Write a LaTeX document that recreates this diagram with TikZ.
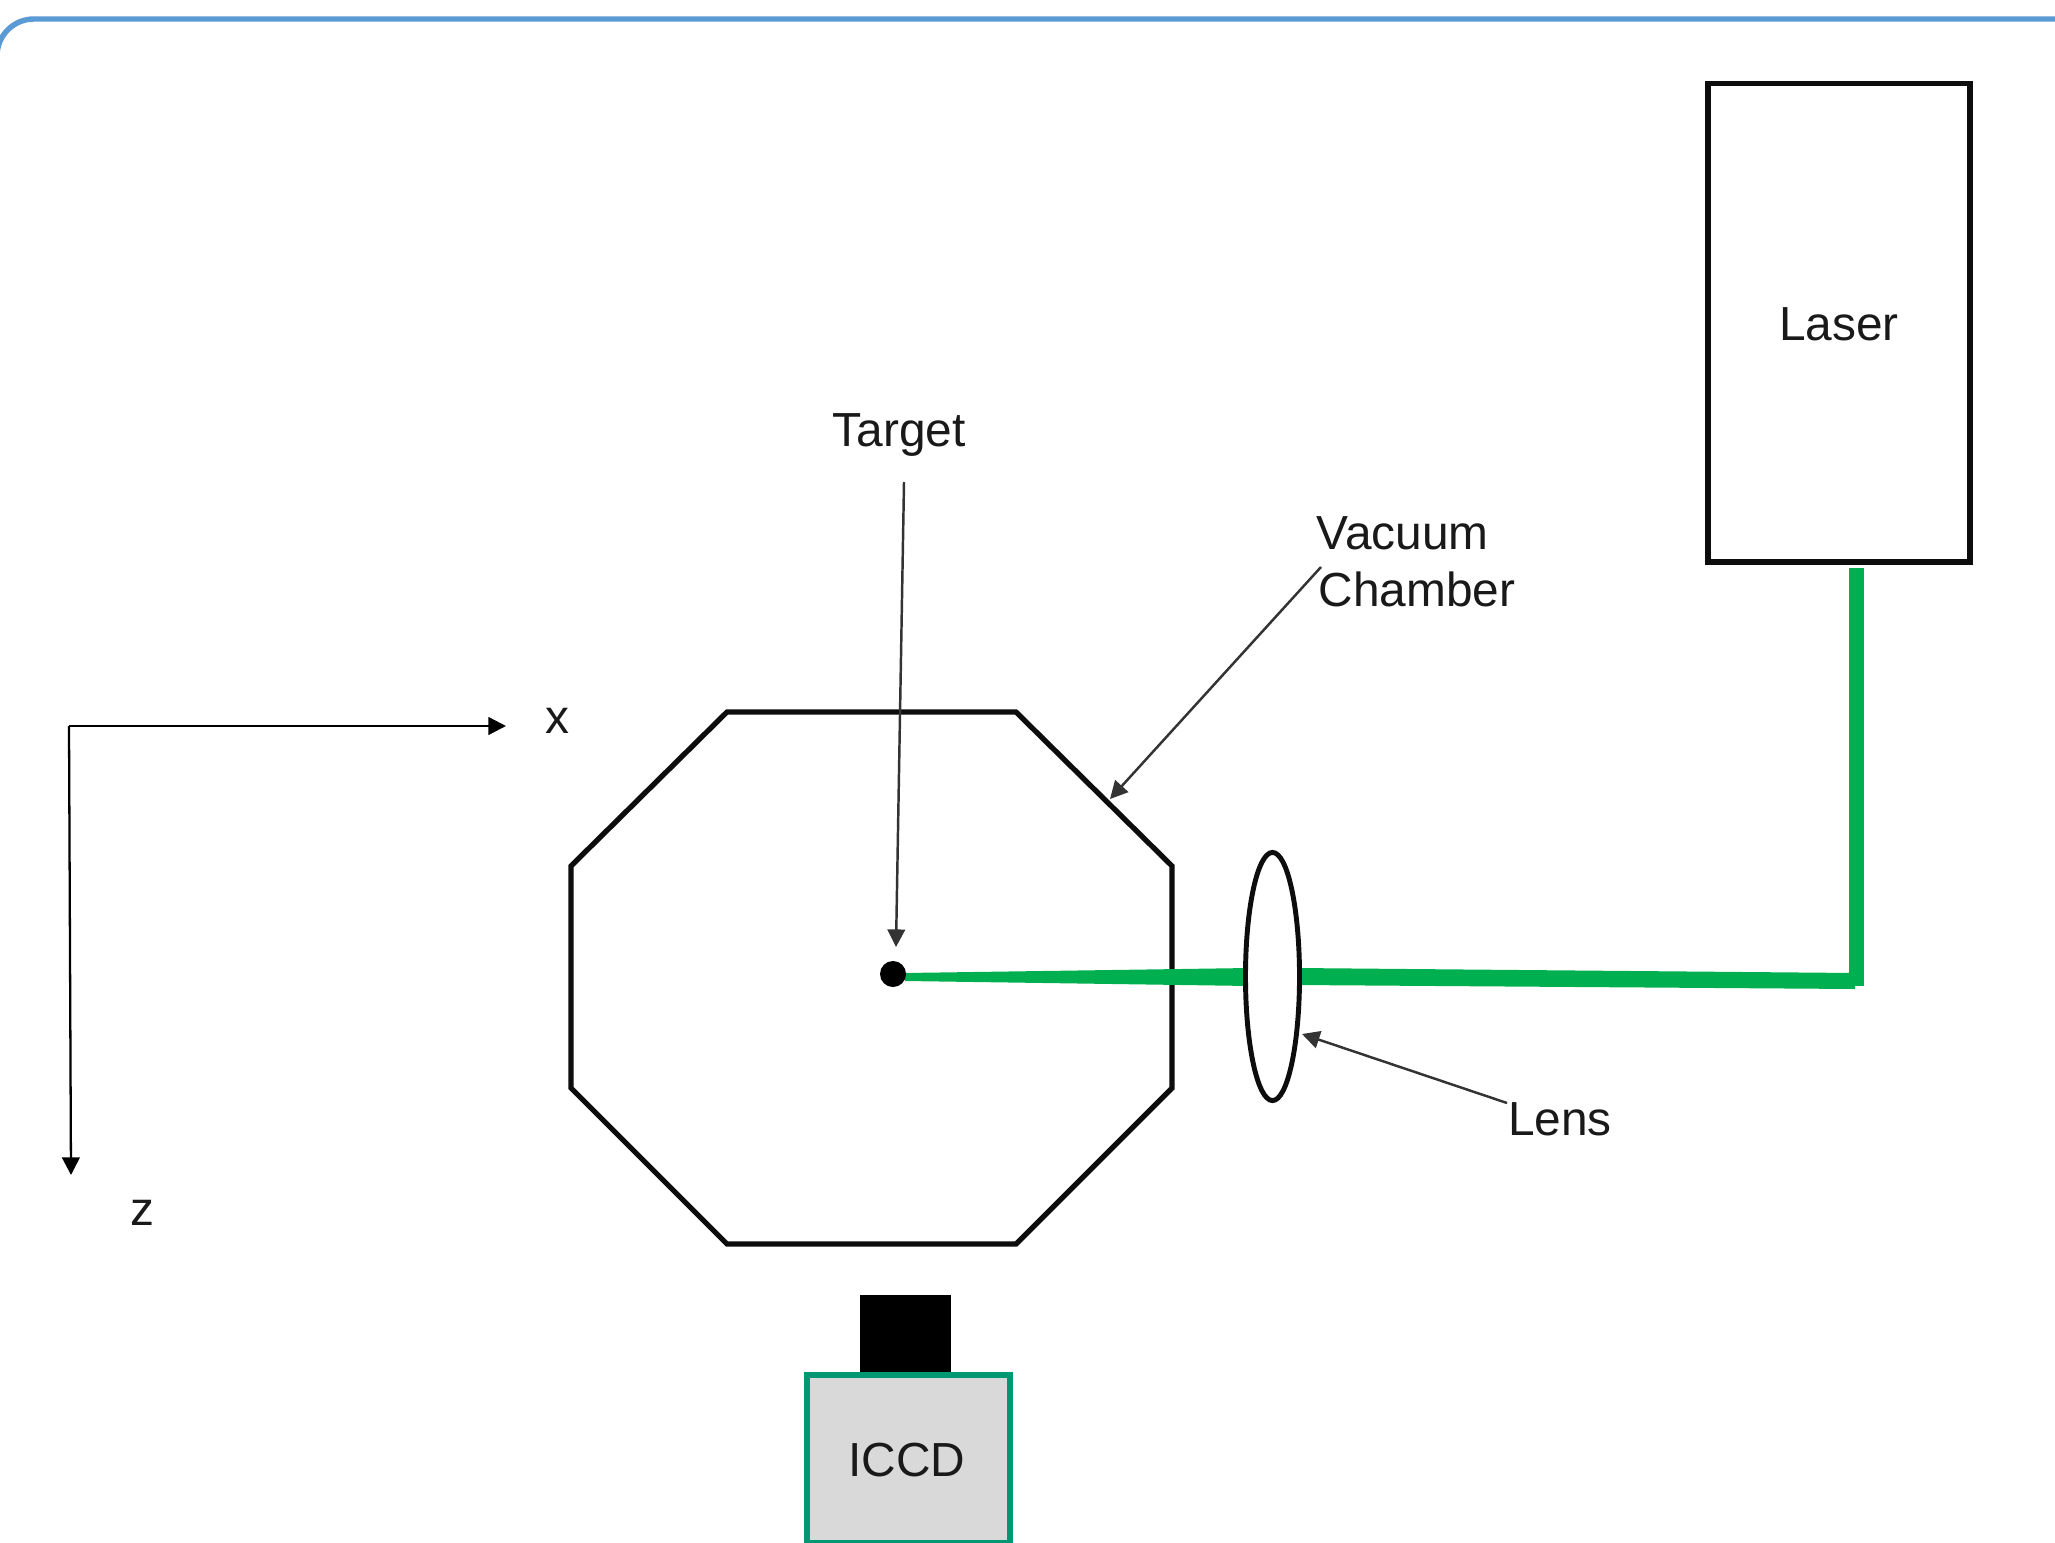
\documentclass[tikz,border=0pt]{standalone}
\usepackage{fontspec}
\setmainfont{Liberation Sans}
\usetikzlibrary{arrows.meta,shapes.geometric}
\definecolor{framecol}{HTML}{5B9BD5}
\definecolor{beamcol}{HTML}{00B050}
\definecolor{tealcol}{HTML}{009872}
\definecolor{greycol}{HTML}{D9D9D9}
\definecolor{leadcol}{HTML}{333333}
\tikzset{
  lbl/.style={font=\fontsize{13.6pt}{16pt}\selectfont, text=black!90, inner sep=0pt},
  outline/.style={draw=black!95, line width=1.5pt},
  lead/.style={draw=leadcol, line width=0.7pt, -{Triangle[length=5pt,width=5pt]}},
  axis/.style={draw=black, line width=0.65pt, -{Triangle[length=5pt,width=5pt]}},
  beam/.style={fill=beamcol},
}
\begin{document}
\begin{tikzpicture}[x=0.01cm,y=-0.01cm]
\useasboundingbox (0,0) rectangle (2055,1543);
\begin{scope}
\clip (0,0) rectangle (2055,1543);
\fill[white] (0,0) rectangle (2055,1543);
% frame
\draw[framecol, line width=1.55pt] (-3,56) .. controls (-3,35.5) and (13.5,19) .. (34,19) -- (2060,19);
% chamber
\draw[outline, line join=miter] (727,712) -- (1016,712) -- (1172,866) -- (1172,1088) -- (1016,1244) -- (727,1244) -- (571,1088) -- (571,866) -- cycle;
% beam
\fill[beam] (905,973) -- (1250,968) -- (1250,986) -- (905,981) -- cycle;
\fill[beam] (1296,968) -- (1855,973) -- (1855,989) -- (1296,985) -- cycle;
\fill[beam] (1849,568) rectangle (1864,986);
% lens
\node[ellipse, draw=black!95, line width=1.4pt, fill=white, minimum width=0.54cm, minimum height=2.48cm, inner sep=0pt] (lens) at (1272.5,976.5) {};
% target
\node[circle, fill=black, minimum size=0.26cm, inner sep=0pt] (dot) at (893,974) {};
% laser
\node[rectangle, outline, fill=white, minimum width=2.62cm, minimum height=4.78cm, inner sep=0pt] (laser) at (1839,323) {};
\node[lbl] (lasertext) at (1839,324) {Laser};
% camera
\node[rectangle, fill=black, minimum width=0.91cm, minimum height=0.8cm, inner sep=0pt] (lensbody) at (905.5,1335) {};
\node[rectangle, draw=tealcol, fill=greycol, line width=1.5pt, minimum width=2.03cm, minimum height=1.68cm, inner sep=0pt] (iccd) at (908.5,1459) {};
\node[lbl] (iccdtext) at (907,1460) {ICCD};
% labels
\node[lbl] (targettext) at (899,435) {Target};
\node[lbl, anchor=west] (vac1) at (1316,533) {Vacuum};
\node[lbl, anchor=west] (vac2) at (1318,589) {Chamber};
\node[lbl] (lenstext) at (1560,1119) {Lens};
\node[lbl] (xtext) at (557,721) {x};
\node[lbl] (ztext) at (142,1213) {z};
% named ends
\coordinate (targetstart) at (904,482);
\coordinate (targetend) at (896,947);
\coordinate (vacstart) at (1321,567);
\coordinate (vacend) at (1110,799);
\coordinate (lensstart) at (1507,1103);
\coordinate (lensend) at (1302,1034);
\coordinate (origin) at (69,726);
\coordinate (xend) at (506,726);
\coordinate (zend) at (71,1175);
% leaders
\draw[lead] (targetstart) -- (targetend);
\draw[lead] (vacstart) -- (vacend);
\draw[lead] (lensstart) -- (lensend);
\draw[axis] (origin) -- (xend);
\draw[axis] (origin) -- (zend);
\end{scope}
\end{tikzpicture}
\end{document}
